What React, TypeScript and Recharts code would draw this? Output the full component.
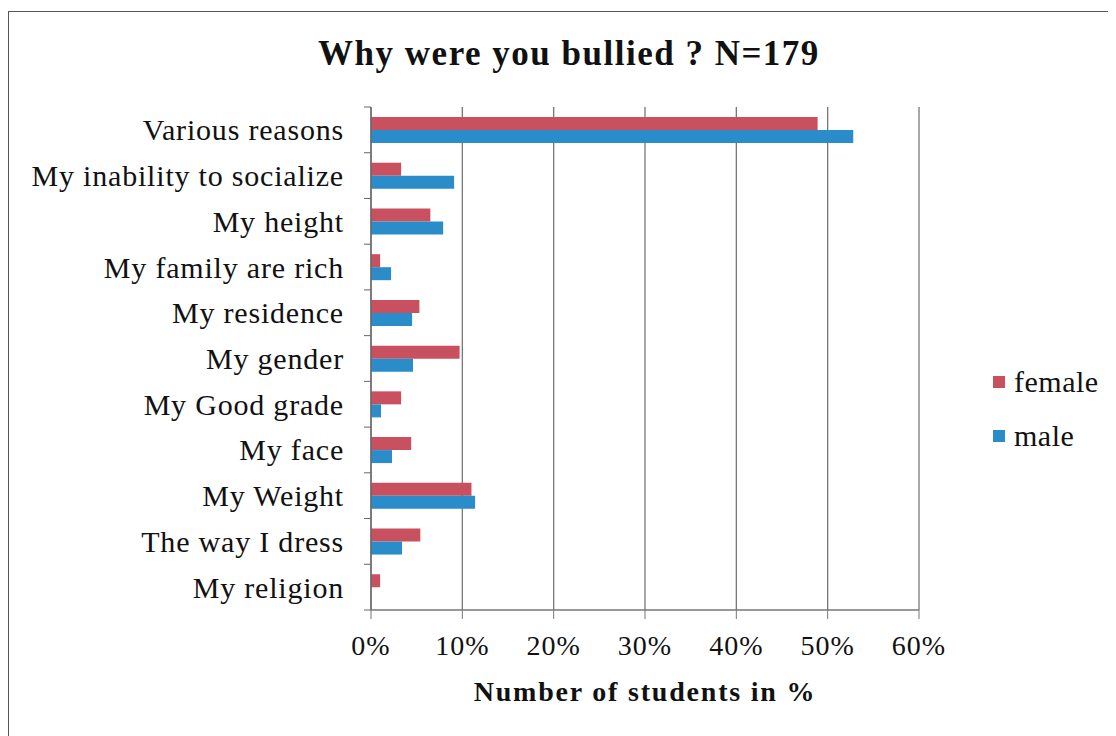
import { BarChart, Bar, XAxis, YAxis, CartesianGrid } from "recharts"

const categories = [
  "Various reasons",
  "My inability to socialize",
  "My height",
  "My family are rich",
  "My residence",
  "My gender",
  "My Good grade",
  "My face",
  "My Weight",
  "The way I dress",
  "My religion",
]
const female = [48.9, 3.3, 6.5, 1.0, 5.3, 9.7, 3.3, 4.4, 11.0, 5.4, 1.0]
const male = [52.8, 9.1, 7.9, 2.2, 4.5, 4.6, 1.1, 2.3, 11.4, 3.4, 0]
const xTicks = [0, 10, 20, 30, 40, 50, 60]
const seriesNames = ["female", "male"]
const seriesColors = ["#c8505f", "#2a8cc8"]

const FONT = "'Liberation Serif', 'Times New Roman', serif"
const W = 1100
const H = 720
const TOP = 95
const BOTTOM_AXIS = 122
const BAND = (H - TOP - BOTTOM_AXIS) / categories.length

const data = categories.map((name, i) => ({ name, female: female[i], male: male[i] }))

function CategoryTick({ x, y, payload, index }: any) {
  return (
    <g>
      <line x1={x - 7} x2={x} y1={y - BAND / 2} y2={y - BAND / 2} stroke="#666" />
      {index === categories.length - 1 && (
        <line x1={x - 7} x2={x} y1={y + BAND / 2} y2={y + BAND / 2} stroke="#666" />
      )}
      <text x={x - 27} y={y} textAnchor="end" dominantBaseline="central" fontSize={30} letterSpacing={0.8} fill="#111" fontFamily={FONT}>
        {payload.value}
      </text>
    </g>
  )
}

export default function App() {
  return (
    <div style={{ position: "relative", width: 1104, height: 740, marginTop: 3, borderTop: "1.5px solid #555", borderLeft: "1.5px solid #555", borderRight: "1.5px solid #555", background: "#fff", overflow: "hidden" }}>
      <div style={{ position: "absolute", left: 0, top: 22, width: 1120, textAlign: "center", fontFamily: FONT, fontWeight: "bold", fontSize: 35, letterSpacing: 1.5, lineHeight: "40px", color: "#111" }}>
        Why were you bullied ? N=179
      </div>
      <BarChart
        width={W}
        height={H}
        data={data}
        layout="vertical"
        margin={{ top: TOP, right: 190, left: 0, bottom: 0 }}
        barSize={13}
        barGap={0}
      >
        <CartesianGrid horizontal={false} stroke="#777" strokeWidth={1.3} />
        <XAxis
          type="number"
          domain={[0, 60]}
          ticks={xTicks}
          height={BOTTOM_AXIS}
          tickFormatter={(v) => `${v}%`}
          tickSize={9}
          tickMargin={16}
          stroke="#777"
          tick={{ fontSize: 28, fill: "#111", fontFamily: FONT, letterSpacing: 1 }}
          axisLine={{ stroke: "#777", strokeWidth: 1.3 }}
        />
        <YAxis
          type="category"
          dataKey="name"
          width={362}
          tickLine={false}
          tickSize={0}
          tickMargin={0}
          axisLine={{ stroke: "#666", strokeWidth: 1.3 }}
          tick={<CategoryTick />}
          interval={0}
        />
        <Bar dataKey="female" name="female" fill={seriesColors[0]} isAnimationActive={false} />
        <Bar dataKey="male" name="male" fill={seriesColors[1]} isAnimationActive={false} />
      </BarChart>
      <div style={{ position: "absolute", left: 984, top: 343, fontFamily: FONT, fontSize: 30, color: "#111" }}>
        {seriesNames.map((n, i) => (
          <div key={n} style={{ display: "flex", alignItems: "center", height: 54 }}>
            <span style={{ width: 12, height: 12, background: seriesColors[i], display: "inline-block", marginRight: 9 }} />
            <span style={{ letterSpacing: 0.5 }}>{n}</span>
          </div>
        ))}
      </div>
      <div style={{ position: "absolute", left: 362, width: 548, top: 664, textAlign: "center", fontFamily: FONT, fontWeight: "bold", fontSize: 28, letterSpacing: 1.8, color: "#111" }}>
        Number of students in %
      </div>
    </div>
  )
}
